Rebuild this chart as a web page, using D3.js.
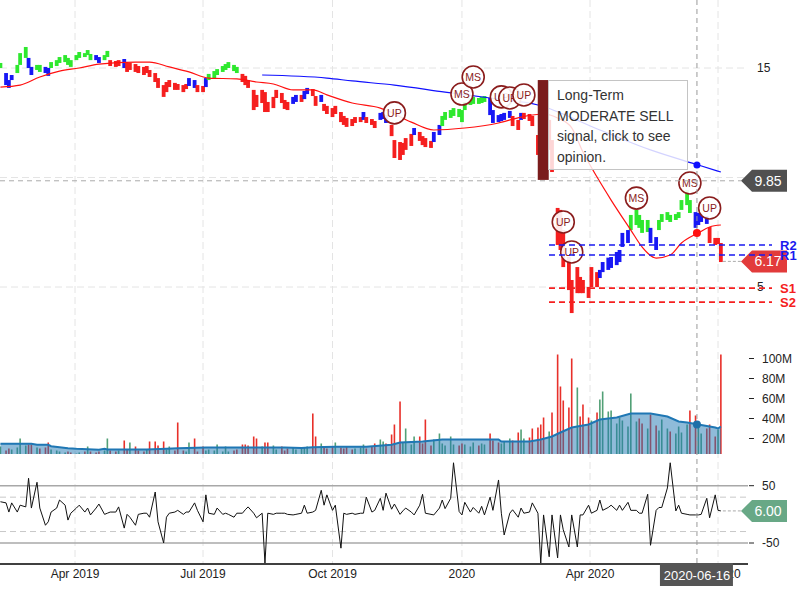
<!DOCTYPE html>
<html>
<head>
<meta charset="utf-8">
<script src="https://cdn.jsdelivr.net/npm/d3@7"></script>
<style>
  body { margin: 0; background: #fff; }
  svg { font-family: Arial, "Liberation Sans", sans-serif; }
</style>
</head>
<body>
<svg id="chart" width="800" height="600"></svg>
<script>
// price bars, every second trading day from 2019-02-07
const hi = [15.23,14.77,14.45,14.68,15.14,15.68,15.96,15.46,15.05,15.14,
  15.14,15.05,15.00,15.27,15.36,15.50,15.59,15.46,15.36,15.59,
  15.73,15.68,15.82,15.64,15.59,15.50,15.59,15.78,15.36,15.32,
  15.36,15.41,15.23,15.23,15.18,15.09,15.05,15.09,14.91,14.77,
  14.54,14.22,14.36,14.45,14.32,14.27,14.22,14.27,14.54,14.45,
  14.22,14.18,14.54,14.73,14.86,14.95,15.09,15.18,15.27,15.14,
  15.05,14.73,14.64,14.45,14.00,13.77,14.00,13.90,13.45,13.68,
  14.00,13.86,13.54,13.45,13.68,13.77,13.77,13.95,14.09,14.04,
  13.72,13.77,13.36,13.27,13.17,13.27,12.99,12.81,12.72,12.67,
  12.76,12.76,12.99,12.76,12.67,12.58,12.95,12.99,12.85,12.40,
  11.71,11.62,11.58,11.80,11.99,12.26,12.08,11.89,11.80,11.67,
  12.08,12.40,12.81,12.99,13.08,13.17,13.13,13.08,13.45,13.63,
  13.68,13.63,13.68,13.72,13.63,13.08,12.85,12.90,12.95,13.04,
  12.81,12.63,12.95,12.95,12.90,12.81,11.94,11.48,11.26,12.63,
  11.71,8.61,8.52,7.60,6.37,5.32,5.91,5.46,5.32,5.00,
  5.91,5.68,5.78,6.14,6.34,6.37,6.60,6.69,7.47,7.60,
  8.29,8.52,8.29,8.06,8.06,7.70,7.28,8.06,8.33,8.42,
  8.29,8.33,8.42,8.97,9.43,8.97,8.42,8.38,8.33,8.24,
  7.74,7.24,7.24,7.01];
const lo = [15.00,14.22,14.09,14.45,14.77,15.14,15.46,15.00,14.68,14.91,
  14.82,14.77,14.64,15.00,15.09,15.23,15.27,15.14,15.05,15.36,
  15.46,15.50,15.59,15.36,15.36,15.23,15.36,15.50,15.09,15.05,
  15.09,15.00,14.82,14.91,14.82,14.77,14.68,14.77,14.59,14.36,
  14.09,13.68,13.90,14.13,14.00,14.00,13.90,14.04,14.18,14.09,
  13.90,13.90,14.13,14.45,14.54,14.68,14.82,14.91,15.00,14.86,
  14.77,14.36,14.22,14.09,13.08,13.22,13.40,12.99,12.99,13.17,
  13.63,13.40,13.13,13.08,13.36,13.45,13.45,13.58,13.81,13.72,
  13.27,13.45,13.04,12.90,12.76,12.90,12.53,12.40,12.31,12.35,
  12.49,12.53,12.63,12.49,12.40,12.26,12.63,12.67,12.49,11.89,
  10.89,10.80,11.03,11.26,11.44,11.94,11.67,11.48,11.39,11.35,
  11.62,11.94,12.35,12.63,12.72,12.81,12.76,12.53,13.08,13.31,
  13.36,13.36,13.40,13.45,12.85,12.49,12.53,12.58,12.63,12.72,
  12.35,12.17,12.63,12.67,12.58,12.35,11.03,9.98,10.11,11.26,
  10.25,6.92,6.69,5.91,4.86,3.81,4.72,4.72,4.72,4.50,
  5.00,5.00,5.41,5.68,5.78,5.87,6.00,6.14,6.83,7.01,
  7.60,7.83,7.70,7.47,7.51,7.01,6.69,7.60,7.97,8.06,
  7.97,8.06,8.15,8.52,8.74,8.38,7.70,7.83,7.97,7.88,
  7.01,6.92,6.96,6.14];
// G = uptrend, B = neutral, R = downtrend
const trend = ("GBBBGGGBBG" + "GBBGGGGGGG" + "GGGGBBGGRR" + "RBRRRRRRRR" + "RRRRRRRRBB" +
  "RRBGGGGGGG" + "GRRRRRRRRR" + "RRRRBBRBBR" + "RBRRRRRRRR" + "RRBRRRBBBR" +
  "RRRRRBRRRR" + "BBGGGGGGGG" + "GGGGBBBBBB" + "RRBRRRRRRR" + "RRRRRRRRRR" +
  "RRBBBBBBBB" + "GGGGGBBGGG" + "GGGGGGBBBB" + "RRRR").split("");

// volume in millions
const volume = [12,8,10,9,11,20,13,14,14,11, 10,11,16,9,8,7,6,7,6,5,
  6,7,12,7,6,7,8,20,8,7, 8,18,9,16,12,8,7,9,17,17,
  13,17,9,12,8,36,8,7,16,20, 7,12,8,9,8,14,7,12,7,8,
  9,14,14,13,22,20,12,16,16,13, 9,12,8,10,11,9,10,11,12,45,
  22,15,11,10,12,16,11,10,12,9, 10,11,14,10,12,15,19,17,15,24,
  34,57,16,30,14,22,22,15,39,13, 19,25,15,13,22,14,13,15,14,12,
  16,13,15,14,25,18,16,15,17,20, 18,26,29,20,21,30,31,34,41,27,
  46,104,72,58,51,100,71,42,54,41, 38,46,59,67,47,48,35,41,38,32,
  65,37,40,35,30,44,33,28,39,30, 27,25,32,26,34,48,43,36,25,30,
  34,22,29,104];

const osc = [22,20,4,20,4,16,13,63,11,56, 11,-19,-13,4,11,25,16,-10,2,11,
  16,4,11,-1,11,18,0,2,4,4, 13,-24,0,-5,-19,0,2,2,-5,39,
  -13,-50,-5,2,4,7,0,4,4,20, 7,-13,34,2,0,11,0,2,0,-5,
  2,2,8,13,2,-6,2,-85,2,0, 2,2,2,0,-1,0,2,16,2,4,
  7,42,16,34,7,16,-59,2,0,2, 0,2,2,30,4,7,28,7,37,9,
  18,0,6,11,4,-1,16,35,2,0, -1,11,25,10,28,90,5,-1,21,4,
  12,2,14,-1,30,7,60,2,-36,2, 8,-5,11,2,4,20,2,-85,-1,-74,
  -1,-76,-1,-27,-57,-1,-57,-1,-1,16, 2,7,25,7,12,16,7,16,7,21,
  7,7,2,2,35,-54,7,12,12,46, 90,6,16,2,0,-1,-1,-1,0,28,
  -6,34,7,6];

// moving averages, read at a subset of bar indices
const ma50Idx = [0,5,10,15,20,25,34,38,43,48,53,60,65,69,74,79,83,89,96,98,104,110,118,126,132,138,141,145,148,151,155,160,163,166,170,173,177,180,183];
const ma50 = [14.13,14.22,14.59,14.86,15.00,15.18,15.27,15.27,15.05,14.82,14.54,14.50,14.36,14.27,14.00,14.00,13.77,13.40,13.17,13.08,12.53,12.17,12.26,12.49,12.76,12.90,12.72,12.27,11.16,10.02,8.97,7.60,6.83,6.32,6.46,7.01,7.47,7.74,7.83];
const ma200Idx = [66,83,89,100,113,124,136,152,165,177,183];
const ma200 = [14.68,14.54,14.41,14.22,13.90,13.63,13.31,12.17,11.26,10.57,10.25];
const volMaIdx = [0,8,9,12,13,15,17,19,25,26,27,37,42,45,52,72,76,79,85,93,99,101,107,112,126,127,134,137,140,142,145,149,152,156,160,165,169,172,174,177,181,182,183];
const volMa = [14.7,14.7,13.7,13.7,12.3,11.3,10.3,9.7,8.7,9.7,9,9,9.7,10.3,11,11,10.5,11.3,11.7,11.7,13.7,16,17,19,19,17,17,19,22,26,31,34,39,41,45,45,42,37,36,34,31,30,32];

const signalIdx = [100,117,120,127,129,133,143,145,161,175,180];
const signalType = ["UP","MS","MS","UP","UP","UP","UP","UP","MS","MS","UP"];
const signalPrice = [12.95,13.81,14.59,13.68,13.63,13.77,7.97,6.60,9.06,9.75,8.61];

const levelNames = ["R2","R1","S1","S2"];
const levelValues = [6.92,6.46,4.95,4.31];

const priceGrid = [15,10,5];
const priceTicks = [15,5];
const volTicks = [20,40,60,80,100];
const oscTicks = [50,-50];
const oscBands = [30,-30];

const crossDate = new Date(2020,5,16);
const crossPrice = 9.85, crossMa50 = 7.47, crossMa200 = 10.57, crossVolMa = 34;
const lastPrice = 6.17, lastOsc = 6.00;
const ltSignal = { idx: 137, top: 14.45, bottom: 9.89 };

const colors = { G: "#2ee82e", B: "#1717f5", R: "#f51f1f" };
const plotRight = 745;

const svg = d3.select("#chart");

const days = d3.timeDay.range(new Date(2019,1,7), new Date(2020,6,8)).filter(d => d.getDay() % 6 !== 0);
const dates = days.filter((d, i) => i % 2 === 0).slice(0, hi.length);
const idx = d3.range(hi.length);

const x = d3.scaleTime()
    .domain([new Date(2019,3,1), new Date(2020,3,1)])
    .range([75, 590]);
const y = d3.scaleLinear().domain([5, 15]).range([287, 68]);
const yVol = d3.scaleLinear().domain([20, 100]).range([438.5, 358.5]);
const yOsc = d3.scaleLinear().domain([-50, 50]).range([543, 485.7]);
const volBase = 454;

// grid
const xTicks = d3.timeMonth.every(3).range(dates[0], dates[dates.length - 1]);
svg.append("g").selectAll("line")
    .data(xTicks)
  .join("line")
    .attr("x1", d => x(d)).attr("x2", d => x(d))
    .attr("y1", 0).attr("y2", 564)
    .attr("stroke", "#e4e4e4").attr("stroke-dasharray", "7,4");
svg.append("g").selectAll("line")
    .data(priceGrid)
  .join("line")
    .attr("x1", 0).attr("x2", plotRight)
    .attr("y1", d => y(d)).attr("y2", d => y(d))
    .attr("stroke", "#e4e4e4").attr("stroke-dasharray", "7,4");

// price bars
svg.append("g").selectAll("rect")
    .data(idx)
  .join("rect")
    .attr("x", i => x(dates[i]) - 1.9)
    .attr("width", 3.8)
    .attr("y", i => y(hi[i]))
    .attr("height", i => Math.max(2, y(lo[i]) - y(hi[i])))
    .attr("fill", i => colors[trend[i]]);

// moving averages
const maLine = vals => d3.line()
    .x(d => x(dates[d]))
    .y((d, k) => y(vals[k]))
    .curve(d3.curveMonotoneX);
svg.append("path")
    .attr("d", maLine(ma50)(ma50Idx))
    .attr("fill", "none").attr("stroke", "#ff1010").attr("stroke-width", 1.2);
svg.append("path")
    .attr("d", maLine(ma200)(ma200Idx))
    .attr("fill", "none").attr("stroke", "#1010ff").attr("stroke-width", 1.2);

// long-term signal bar
svg.append("rect")
    .attr("x", x(dates[ltSignal.idx]) - 3)
    .attr("width", 11)
    .attr("y", y(ltSignal.top))
    .attr("height", y(ltSignal.bottom) - y(ltSignal.top))
    .attr("fill", "#7a1c1c");

// signal markers
const sig = svg.append("g").selectAll("g")
    .data(signalIdx.map((d, k) => k))
  .join("g")
    .attr("transform", k => `translate(${x(dates[signalIdx[k]])},${y(signalPrice[k])})`);
sig.append("circle")
    .attr("r", 11)
    .attr("fill", "#fff").attr("fill-opacity", 0.9)
    .attr("stroke", "#8a1c1c").attr("stroke-width", 1.6);
sig.append("text")
    .attr("text-anchor", "middle").attr("dy", "0.36em")
    .attr("font-size", 10.5).attr("fill", "#8a1c1c")
    .text(k => signalType[k]);

// opinion box
svg.append("rect")
    .attr("x", 548.5).attr("y", 80.5).attr("width", 139).attr("height", 89)
    .attr("fill", "#fff").attr("fill-opacity", 0.82)
    .attr("stroke", "#c4c4c4");
["Long-Term", "MODERATE SELL", "signal, click to see", "opinion."].forEach((t, k) => {
  svg.append("text")
      .attr("x", 557).attr("y", 100 + k * 20.5)
      .attr("font-size", 14).attr("fill", "#333")
      .text(t);
});

// volume
svg.append("g").selectAll("rect")
    .data(idx)
  .join("rect")
    .attr("x", i => x(dates[i]) - 0.8)
    .attr("width", 1.6)
    .attr("y", i => Math.min(volBase, yVol(volume[i])))
    .attr("height", i => Math.max(0, volBase - yVol(volume[i])))
    .attr("fill", i => (i > 0 && hi[i] + lo[i] < hi[i - 1] + lo[i - 1]) ? "#e8302a" : "#52a076");
svg.append("path")
    .attr("d", d3.area()
      .x(d => x(dates[d]))
      .y0(volBase)
      .y1((d, k) => yVol(volMa[k]))(volMaIdx))
    .attr("fill", "#1f77b4").attr("fill-opacity", 0.5);
svg.append("path")
    .attr("d", d3.line()
      .x(d => x(dates[d]))
      .y((d, k) => yVol(volMa[k]))(volMaIdx))
    .attr("fill", "none").attr("stroke", "#1f77b4").attr("stroke-width", 2);

// oscillator
svg.append("g").selectAll("line")
    .data(oscTicks)
  .join("line")
    .attr("x1", 0).attr("x2", 748)
    .attr("y1", d => yOsc(d)).attr("y2", d => yOsc(d))
    .attr("stroke", "#a8a8a8").attr("stroke-width", 1.5);
svg.append("g").selectAll("line")
    .data(oscBands)
  .join("line")
    .attr("x1", 0).attr("x2", 748)
    .attr("y1", d => yOsc(d)).attr("y2", d => yOsc(d))
    .attr("stroke", "#c8c8c8").attr("stroke-dasharray", "6,4");
svg.append("path")
    .attr("d", d3.line()
      .x(i => x(dates[i]))
      .y(i => Math.max(462, Math.min(564, yOsc(osc[i]))))(idx))
    .attr("fill", "none").attr("stroke", "#111").attr("stroke-width", 1);

// x axis
svg.append("line")
    .attr("x1", 0).attr("x2", 748).attr("y1", 564).attr("y2", 564)
    .attr("stroke", "#000").attr("stroke-width", 1.5);
svg.append("g").selectAll("text")
    .data(xTicks)
  .join("text")
    .attr("x", d => x(d)).attr("y", 578)
    .attr("text-anchor", "middle").attr("font-size", 12).attr("fill", "#222")
    .text(d => d.getMonth() === 0 ? d3.timeFormat("%Y")(d) : d3.timeFormat("%b %Y")(d));

// right axes
svg.append("g").selectAll("text")
    .data(priceTicks)
  .join("text")
    .attr("x", 757).attr("y", d => y(d)).attr("dy", "0.35em")
    .attr("font-size", 12).attr("fill", "#222")
    .text(d => d);
const vt = svg.append("g").selectAll("g")
    .data(volTicks)
  .join("g")
    .attr("transform", d => `translate(0,${yVol(d)})`);
vt.append("line").attr("x1", 749).attr("x2", 754).attr("stroke", "#222");
vt.append("text").attr("x", 762).attr("dy", "0.35em")
    .attr("font-size", 12).attr("fill", "#222")
    .text(d => d + "M");
const ot = svg.append("g").selectAll("g")
    .data(oscTicks)
  .join("g")
    .attr("transform", d => `translate(0,${yOsc(d)})`);
ot.append("line").attr("x1", 749).attr("x2", 754).attr("stroke", "#222");
ot.append("text").attr("x", 762).attr("dy", "0.35em")
    .attr("font-size", 12).attr("fill", "#222")
    .text(d => d);

// crosshair
const cx = x(crossDate);
svg.append("line")
    .attr("x1", cx).attr("x2", cx).attr("y1", 0).attr("y2", 564)
    .attr("stroke", "#999").attr("stroke-dasharray", "5,4");
svg.append("line")
    .attr("x1", 0).attr("x2", 741).attr("y1", y(crossPrice)).attr("y2", y(crossPrice))
    .attr("stroke", "#aaa").attr("stroke-dasharray", "5,4");
svg.append("circle").attr("cx", cx).attr("cy", y(crossMa200)).attr("r", 3.5).attr("fill", "#1010ff");
svg.append("circle").attr("cx", cx).attr("cy", y(crossMa50)).attr("r", 4).attr("fill", "#ff1010");
svg.append("circle").attr("cx", cx).attr("cy", yVol(crossVolMa)).attr("r", 4).attr("fill", "#1f6fa8");

// last value leaders
const lastX = x(dates[dates.length - 1]);
svg.append("line")
    .attr("x1", lastX + 2).attr("x2", 741).attr("y1", y(lastPrice)).attr("y2", y(lastPrice))
    .attr("stroke", "#aaa").attr("stroke-dasharray", "3,2");
svg.append("line")
    .attr("x1", lastX + 2).attr("x2", 741).attr("y1", yOsc(lastOsc)).attr("y2", yOsc(lastOsc))
    .attr("stroke", "#aaa").attr("stroke-dasharray", "3,2");

function tag(yv, label, fill) {
  svg.append("path")
      .attr("d", `M741,${yv} L752,${yv - 11} L787,${yv - 11} L787,${yv + 11} L752,${yv + 11} Z`)
      .attr("fill", fill);
  svg.append("text")
      .attr("x", 768).attr("y", yv).attr("dy", "0.36em")
      .attr("text-anchor", "middle").attr("font-size", 14).attr("fill", "#fff")
      .text(label);
}
tag(y(crossPrice), crossPrice.toFixed(2), "#505050");
tag(y(lastPrice), lastPrice.toFixed(2), "#e23b3b");
tag(yOsc(lastOsc), lastOsc.toFixed(2), "#68a886");

// support / resistance
levelNames.forEach((name, k) => {
  const c = name[0] === "R" ? "#1a1af0" : "#f52020";
  svg.append("line")
      .attr("x1", 549).attr("x2", 772)
      .attr("y1", y(levelValues[k])).attr("y2", y(levelValues[k]))
      .attr("stroke", c).attr("stroke-width", 1.6).attr("stroke-dasharray", "6,4");
  svg.append("text")
      .attr("x", 780).attr("y", y(levelValues[k])).attr("dy", "0.35em")
      .attr("fill", c).attr("font-size", 13).attr("font-weight", "bold")
      .text(name);
});

svg.append("rect")
    .attr("x", cx - 37).attr("y", 563).attr("width", 73).attr("height", 23)
    .attr("fill", "#555");
svg.append("text")
    .attr("x", cx).attr("y", 575).attr("dy", "0.35em")
    .attr("text-anchor", "middle").attr("font-size", 13).attr("fill", "#fff")
    .text(d3.timeFormat("%Y-%m-%d")(crossDate));
</script>
</body>
</html>
